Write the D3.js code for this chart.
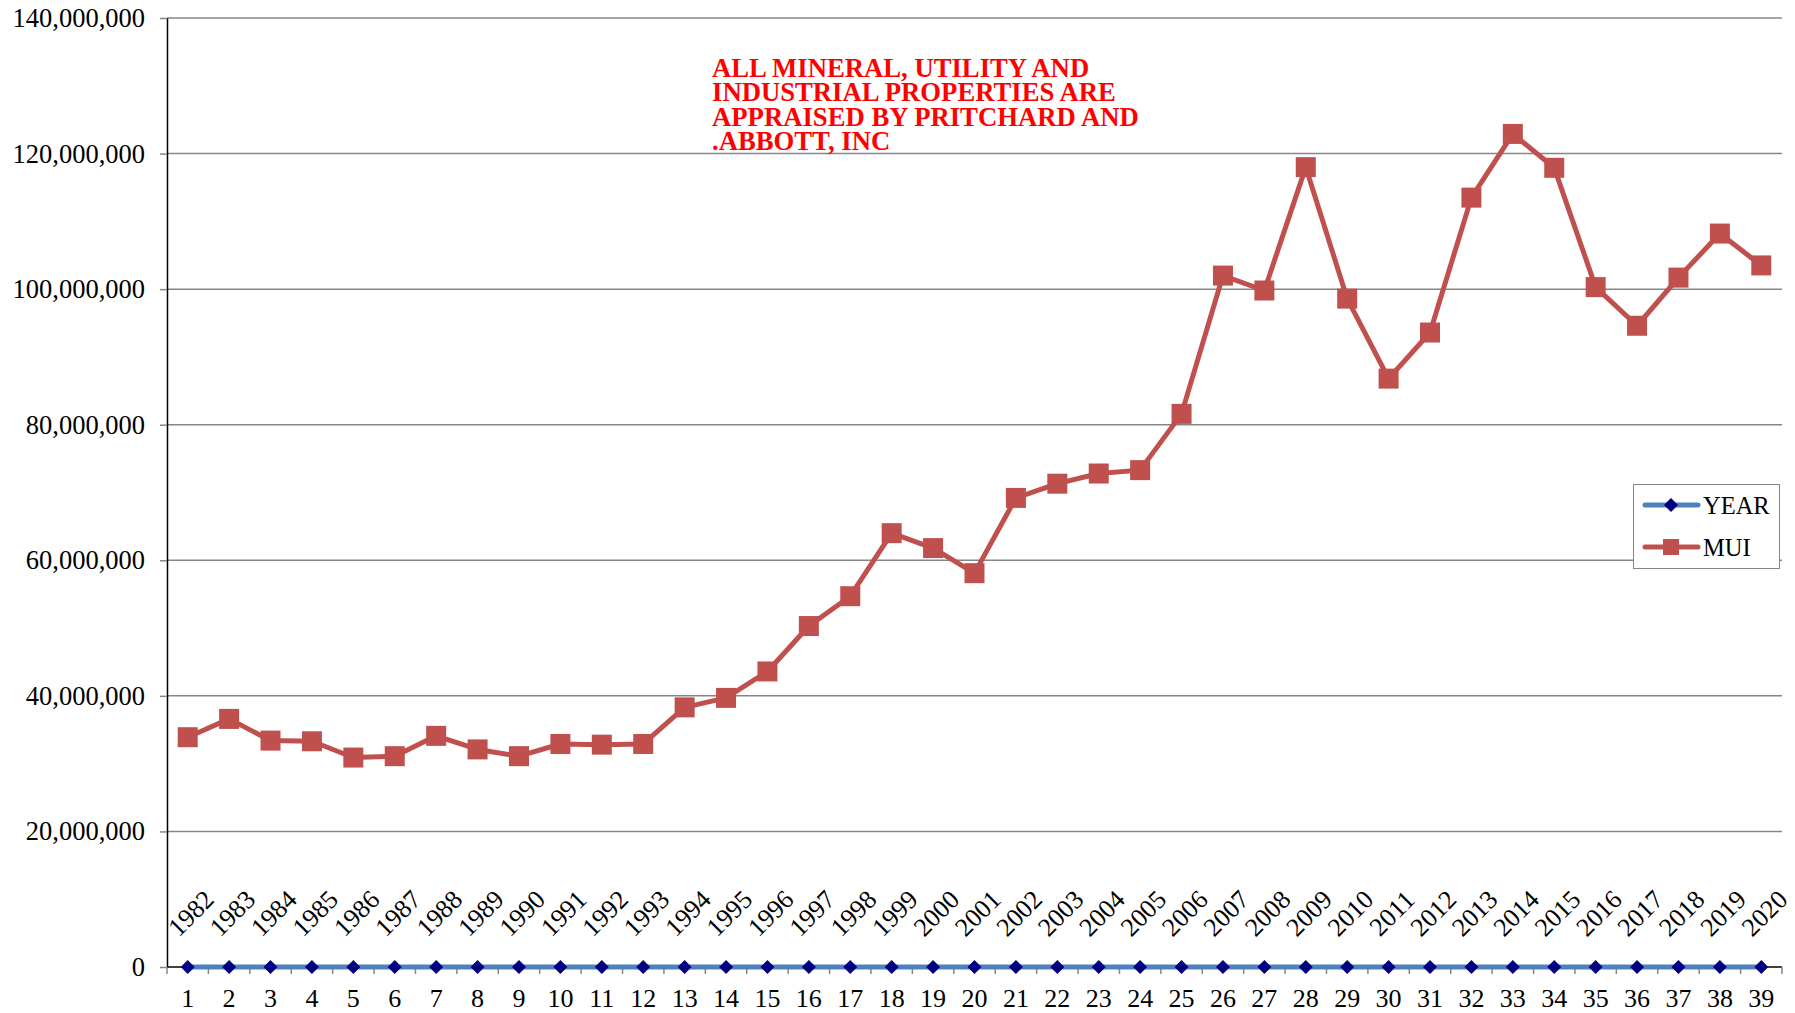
<!DOCTYPE html>
<html>
<head>
<meta charset="utf-8">
<script src="https://cdn.jsdelivr.net/npm/d3@7"></script>
<style>
    body { margin: 0; background: #fff; }
    svg { display: block; font-family: "Liberation Serif", "Times New Roman", serif; }
</style>
</head>
<body>
<div id="chart"></div>
<script>
// category numbers along the bottom axis
const categories = d3.range(1, 40);
// YEAR series (plotted on the same scale, so it sits on zero)
const years = d3.range(1982, 2021);
// MUI series
const mui = [
    33.9e6, 36.6e6, 33.4e6, 33.3e6, 30.9e6, 31.1e6, 34.1e6, 32.1e6, 31.1e6, 32.9e6,
    32.8e6, 32.9e6, 38.3e6, 39.7e6, 43.6e6, 50.3e6, 54.7e6, 64.0e6, 61.8e6, 58.1e6,
    69.2e6, 71.3e6, 72.8e6, 73.3e6, 81.6e6, 102.0e6, 99.8e6, 118.0e6, 98.6e6, 86.8e6,
    93.6e6, 113.5e6, 122.9e6, 117.9e6, 100.3e6, 94.6e6, 101.7e6, 108.2e6, 103.5e6
];
const yTicks = [0, 20e6, 40e6, 60e6, 80e6, 100e6, 120e6, 140e6];
const note = [
    "ALL MINERAL, UTILITY AND",
    "INDUSTRIAL PROPERTIES ARE",
    "APPRAISED BY PRITCHARD AND",
    ".ABBOTT, INC"
];
const legendItems = ["YEAR", "MUI"];

(function () {
    const width = 1795, height = 1013;
    const margin = { top: 18, right: 13, bottom: 46, left: 167 };

    const svg = d3.select("#chart").append("svg")
        .attr("width", width)
        .attr("height", height);

    const x = d3.scaleBand()
        .domain(categories)
        .range([margin.left, width - margin.right]);
    const cx = d => x(d) + x.bandwidth() / 2;

    const y = d3.scaleLinear()
        .domain([0, 140e6])
        .range([height - margin.bottom, margin.top]);

    // gridlines
    svg.append("g")
        .selectAll("line")
        .data(yTicks.filter(d => d > 0))
        .enter()
        .append("line")
        .attr("x1", margin.left)
        .attr("x2", width - margin.right)
        .attr("y1", d => y(d))
        .attr("y2", d => y(d))
        .attr("stroke", "#868686")
        .attr("stroke-width", 1.5);

    // y axis
    const yAxis = svg.append("g")
        .attr("transform", `translate(${margin.left},0)`)
        .call(d3.axisLeft(y).tickValues(yTicks).tickFormat(d3.format(",")).tickSize(7).tickSizeOuter(0).tickPadding(15));
    yAxis.select(".domain").attr("stroke", "#000").attr("stroke-width", 1.5);
    yAxis.selectAll(".tick line").attr("stroke", "#868686").attr("stroke-width", 1.5);
    yAxis.selectAll("text").attr("font-size", 26.5).attr("fill", "#000")
        .attr("font-family", "Liberation Serif");

    // x axis line + ticks between categories
    const y0 = y(0);
    svg.append("line")
        .attr("x1", margin.left).attr("x2", width - margin.right)
        .attr("y1", y0).attr("y2", y0)
        .attr("stroke", "#000").attr("stroke-width", 1.5);
    svg.append("g")
        .selectAll("line")
        .data(categories.concat([categories.length + 1]))
        .enter()
        .append("line")
        .attr("x1", d => margin.left + (d - 1) * x.bandwidth())
        .attr("x2", d => margin.left + (d - 1) * x.bandwidth())
        .attr("y1", y0)
        .attr("y2", y0 + 7)
        .attr("stroke", "#868686")
        .attr("stroke-width", 1.5);

    svg.append("g")
        .selectAll("text")
        .data(categories)
        .enter()
        .append("text")
        .attr("x", d => cx(d))
        .attr("y", y0 + 40)
        .attr("text-anchor", "middle")
        .attr("font-size", 26)
        .text(d => d);

    // YEAR series
    const yearLine = d3.line().x((d, i) => cx(categories[i])).y(d => y(d));
    svg.append("path")
        .datum(years)
        .attr("d", yearLine)
        .attr("fill", "none")
        .attr("stroke", "#4F81BD")
        .attr("stroke-width", 5);

    const diamond = d3.symbol().type(d3.symbolDiamond2).size(125);
    svg.append("g")
        .selectAll("path")
        .data(years)
        .enter()
        .append("path")
        .attr("d", diamond)
        .attr("transform", (d, i) => `translate(${cx(categories[i])},${y(d)})`)
        .attr("fill", "#000080");

    // YEAR data labels, rotated
    svg.append("g")
        .selectAll("text")
        .data(years)
        .enter()
        .append("text")
        .attr("transform", (d, i) => `translate(${cx(categories[i]) + 3},${y(d) - 54}) rotate(-45)`)
        .attr("text-anchor", "middle")
        .attr("dy", "0.35em")
        .attr("font-size", 26)
        .text(d => d);

    // MUI series
    const muiLine = d3.line().x((d, i) => cx(categories[i])).y(d => y(d));
    svg.append("path")
        .datum(mui)
        .attr("d", muiLine)
        .attr("fill", "none")
        .attr("stroke", "#C0504D")
        .attr("stroke-width", 5)
        .attr("stroke-linejoin", "round");

    const sq = 20;
    svg.append("g")
        .selectAll("rect")
        .data(mui)
        .enter()
        .append("rect")
        .attr("x", (d, i) => cx(categories[i]) - sq / 2)
        .attr("y", d => y(d) - sq / 2)
        .attr("width", sq)
        .attr("height", sq)
        .attr("fill", "#C0504D");

    // note in red
    svg.append("text")
        .attr("x", 712)
        .attr("y", 77)
        .attr("font-size", 26.7)
        .attr("font-weight", "bold")
        .attr("fill", "#FF0000")
        .selectAll("tspan")
        .data(note)
        .enter()
        .append("tspan")
        .attr("x", 712)
        .attr("dy", (d, i) => i ? 24.4 : 0)
        .text(d => d);

    // legend
    const lg = svg.append("g");
    lg.append("rect")
        .attr("x", 1633.5).attr("y", 484.5)
        .attr("width", 146).attr("height", 84)
        .attr("fill", "#fff")
        .attr("stroke", "#868686")
        .attr("stroke-width", 1);
    const colors = { YEAR: "#4F81BD", MUI: "#C0504D" };
    legendItems.forEach((name, i) => {
        const ly = 505 + i * 42;
        lg.append("line")
            .attr("x1", 1645).attr("x2", 1698)
            .attr("y1", ly).attr("y2", ly)
            .attr("stroke", colors[name])
            .attr("stroke-width", 5)
            .attr("stroke-linecap", "round");
        if (name === "YEAR") {
            lg.append("path")
                .attr("d", d3.symbol().type(d3.symbolDiamond2).size(125))
                .attr("transform", `translate(1671,${ly})`)
                .attr("fill", "#000080");
        } else {
            lg.append("rect")
                .attr("x", 1663).attr("y", ly - 8)
                .attr("width", 16).attr("height", 16)
                .attr("fill", "#C0504D");
        }
        lg.append("text")
            .attr("x", 1703)
            .attr("y", ly + 9)
            .attr("font-size", 24.5)
            .text(name);
    });
})();
</script>
</body>
</html>
